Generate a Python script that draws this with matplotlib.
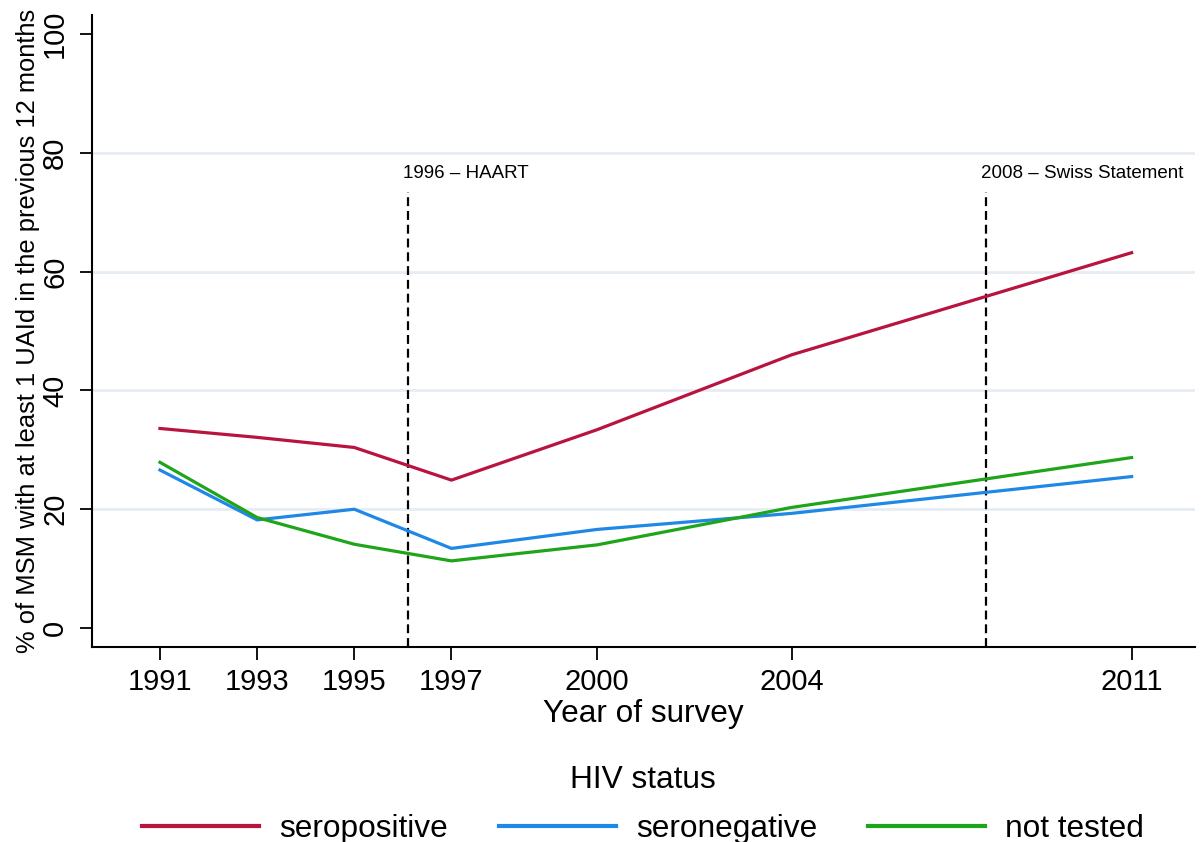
import matplotlib
matplotlib.use("Agg")
import matplotlib.pyplot as plt

# 数据
years = [1991, 1993, 1995, 1997, 2000, 2004, 2011]
seropositive = [33.6, 32.1, 30.4, 24.9, 33.4, 46.0, 63.2]
seronegative = [26.6, 18.2, 20.0, 13.4, 16.6, 19.3, 25.5]
not_tested = [27.9, 18.6, 14.1, 11.3, 14.0, 20.3, 28.7]

series_names = ["seropositive", "seronegative", "not tested"]
series_colors = ["#b8143e", "#1f88e6", "#1ea519"]

events = [1996.1, 2008]
event_labels = ["1996 \u2013 HAART", "2008 \u2013 Swiss Statement"]
y_ticks = [0, 20, 40, 60, 80, 100]

FONT = ["Liberation Sans", "DejaVu Sans"]
plt.rcParams["font.family"] = FONT

fig = plt.figure(figsize=(12.02, 8.42), dpi=100)
ax = fig.add_axes([0.0765, 0.2316, 0.9175, 0.7504])

ylim = (-3.2, 103.2)
ax.set_xlim(1989.6, 2012.3)
ax.set_ylim(*ylim)

# 网格
for y in y_ticks[1:-1]:
    ax.axhline(y, color="#e6edf2", linewidth=2.0, zorder=0)

# 事件线 + 标注
for ev, lab in zip(events, event_labels):
    ax.vlines(ev, ylim[0], 73.4, colors="black", linewidth=1.6,
              linestyles=(0, (4, 2.2)), zorder=2)
    ax.annotate(lab, xy=(ev, 76.6), xytext=(-5, 0), textcoords="offset pixels",
                ha="left", va="center", fontsize=13.5)

# 曲线
for vals, name, col in zip([seropositive, seronegative, not_tested],
                           series_names, series_colors):
    ax.plot(years, vals, color=col, linewidth=2.3, label=name, zorder=3)

ax.spines["top"].set_visible(False)
ax.spines["right"].set_visible(False)
ax.spines["left"].set_linewidth(1.5)
ax.spines["bottom"].set_linewidth(1.5)

ax.set_xticks(years)
ax.set_xticklabels([str(y) for y in years])
ax.set_yticks(y_ticks)
ax.set_yticklabels([str(y) for y in y_ticks], rotation=90, va="center")
ax.tick_params(axis="both", length=9, width=1.3, labelsize=21, pad=6)
ax.tick_params(axis="y", pad=7.5)

ax.set_xlabel("Year of survey", fontsize=22.7, labelpad=2)
ax.set_ylabel("% of MSM with at least 1 UAId in the previous 12 months",
              fontsize=18.4, labelpad=1)

leg = fig.legend(loc="lower center", bbox_to_anchor=(0.535, -0.021),
                 ncol=3, frameon=False, fontsize=22.8, title="HIV status",
                 title_fontsize=22.8, handlelength=3.7, handletextpad=0.63,
                 columnspacing=1.6, borderpad=0.0, labelspacing=0.6)
for line in leg.get_lines():
    line.set_linewidth(3)

fig.savefig("out.png", dpi=100)
